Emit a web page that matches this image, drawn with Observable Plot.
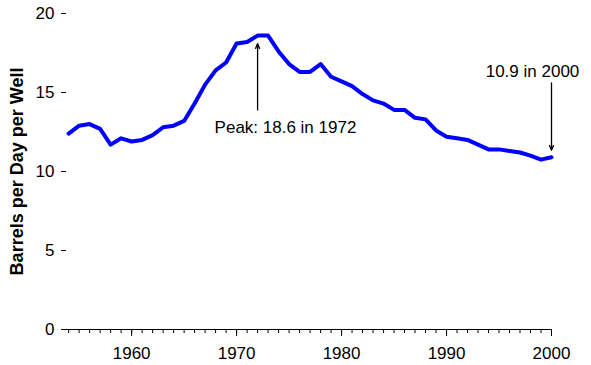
<!DOCTYPE html>
<html><head><meta charset="utf-8">
<script src="https://cdn.jsdelivr.net/npm/d3@7"></script>
<script src="https://cdn.jsdelivr.net/npm/@observablehq/plot@0.6"></script>
<style>body{margin:0;background:#fff}</style>
</head><body><div id="chart"></div>
<script>
const years = [1954,1955,1956,1957,1958,1959,1960,1961,1962,1963,1964,1965,1966,1967,1968,1969,
  1970,1971,1972,1973,1974,1975,1976,1977,1978,1979,1980,1981,1982,1983,1984,1985,1986,1987,1988,1989,
  1990,1991,1992,1993,1994,1995,1996,1997,1998,1999,2000];
const barrelsPerWell = [12.4,12.9,13.0,12.7,11.7,12.1,11.9,12.0,12.3,12.8,12.9,13.2,14.3,15.5,16.4,16.9,
  18.1,18.2,18.6,18.6,17.6,16.8,16.3,16.3,16.8,16.0,15.7,15.4,14.9,14.5,14.3,13.9,13.9,13.4,13.3,12.6,
  12.2,12.1,12.0,11.7,11.4,11.4,11.3,11.2,11.0,10.75,10.9];
const yTicks = [0,5,10,15,20];
const xLabelTicks = [1960,1970,1980,1990,2000];
const yTitle = "Barrels per Day per Well";
const annYears = [1972, 2000];
const annValues = [18.6, 10.9];
const annFrom = [13.9, 15.6];
const annLabels = ["Peak: 18.6 in 1972", "10.9 in 2000"];

const data = years.map((year, i) => ({year, value: barrelsPerWell[i]}));
const ann = annYears.map((year, i) => ({year, value: annValues[i], from: annFrom[i], label: annLabels[i]}));

const annStyle = [
  {insetEnd: 8, dx: -43, dy: 92, textAnchor: "start"},
  {insetEnd: 7, dx: -19, dy: -86, textAnchor: "middle"}
];

const annMarks = ann.flatMap((a, i) => [
  Plot.arrow([a], {x1: "year", x2: "year", y1: "from", y2: "value", insetEnd: annStyle[i].insetEnd,
    headLength: 6, headAngle: 45, stroke: "black", strokeWidth: 1.3}),
  Plot.text([a], {x: "year", y: "value", text: "label", dx: annStyle[i].dx, dy: annStyle[i].dy,
    textAnchor: annStyle[i].textAnchor, lineAnchor: "middle", fontSize: 17, fill: "black"})
]);

const chart = Plot.plot({
  width: 591, height: 365,
  marginLeft: 65, marginRight: 40, marginTop: 13, marginBottom: 36,
  x: {domain: [1953.7, 2000], label: null},
  y: {domain: [0, 20], label: null},
  style: {fontFamily: "'Liberation Sans', Arial, sans-serif", fontSize: "17px", color: "black", background: "white"},
  marks: [
    Plot.axisY({ticks: yTicks, tickSize: 5, tickPadding: 7, dx: 1, label: null, fontSize: 17, tickFormat: d => String(d)}),
    Plot.ruleY([0], {stroke: "black", strokeWidth: 1}),
    Plot.axisX({ticks: years, tickSize: 4, tickFormat: () => "", label: null}),
    Plot.axisX({ticks: xLabelTicks, tickSize: 7, tickPadding: 10, fontSize: 17, tickFormat: d => String(d), label: null}),
    Plot.line(data, {x: "year", y: "value", stroke: "#0000ff", strokeWidth: 4, strokeLinejoin: "round"}),
    ...annMarks,
    Plot.text([yTitle], {frameAnchor: "left", rotate: -90, dx: -48, textAnchor: "middle", fontWeight: "bold", fontSize: 18, fill: "black"})
  ]
});
document.getElementById("chart").appendChild(chart);
</script>
</body></html>
